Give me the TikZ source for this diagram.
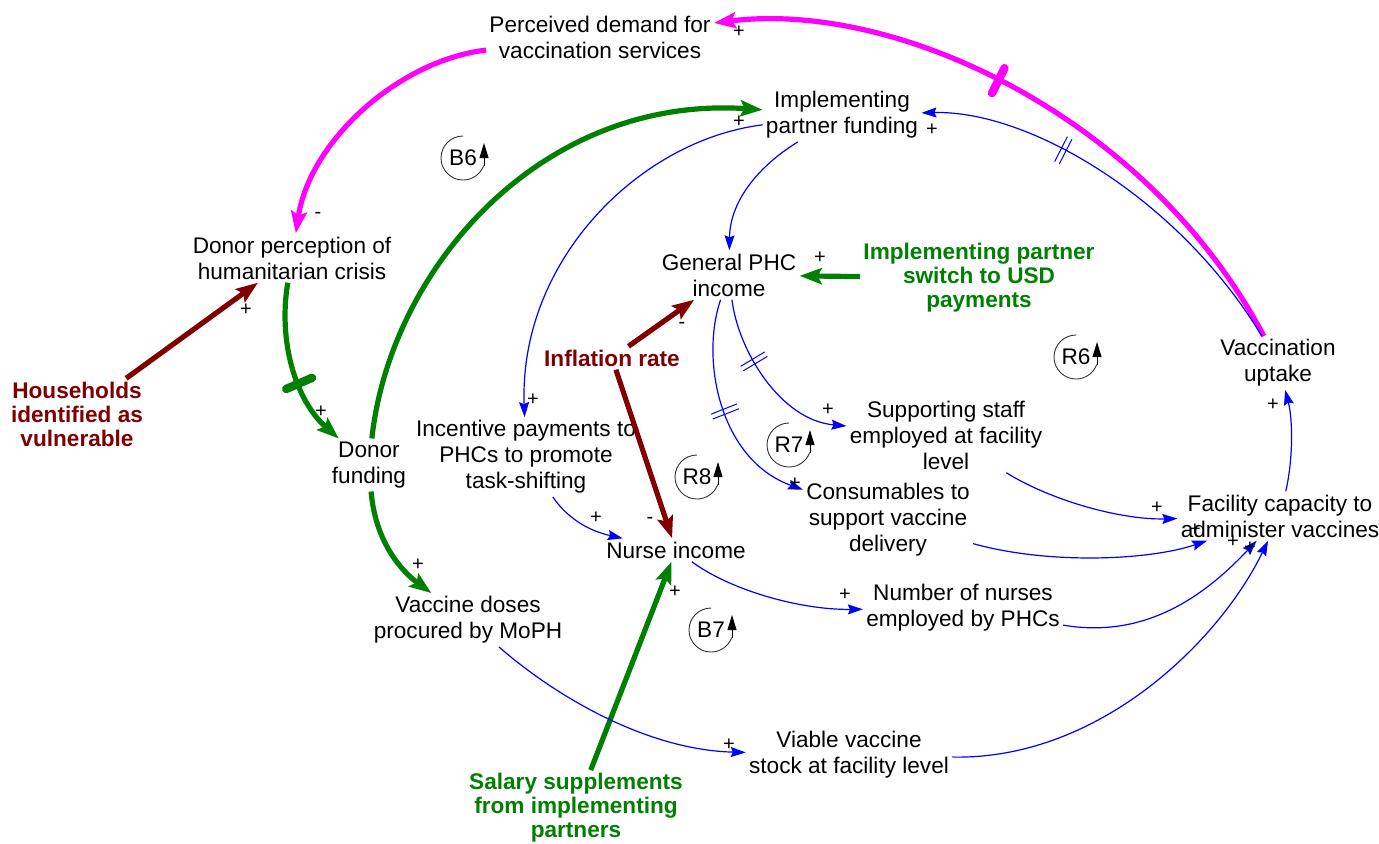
\documentclass[tikz,border=0pt]{standalone}
\usepackage{fontspec}
\setmainfont{Liberation Sans}
\usetikzlibrary{arrows.meta,decorations.markings}
\definecolor{cblue}{RGB}{0,0,255}
\definecolor{cgreen}{RGB}{0,128,0}
\definecolor{cred}{RGB}{128,0,0}
\definecolor{cmag}{RGB}{255,0,255}
\tikzset{
  var/.style={align=center, font=\fontsize{11.3}{13}\selectfont, inner sep=1.5pt},
  extg/.style={align=center, font=\fontsize{11.3}{12}\selectfont\bfseries, text=cgreen, inner sep=1.5pt},
  extr/.style={align=center, font=\fontsize{11.3}{12}\selectfont\bfseries, text=cred, inner sep=1.5pt},
  sgn/.style={font=\fontsize{10}{11}\selectfont, inner sep=0pt},
  bluelink/.style={draw=cblue, line width=0.6pt, -{Stealth[length=7.5pt,width=5pt,inset=1pt]}},
  thicklink/.style={line width=2.6pt, -{Stealth[length=11pt,width=8pt,inset=2pt]}},
  bluedelay/.style={postaction={decorate,decoration={markings,mark=at position #1 with {\draw[-,cblue,line width=0.5pt] (-1.3pt,-7pt)--(-1.3pt,7pt) (1.3pt,-7pt)--(1.3pt,7pt);}}}},
  bardelay/.style 2 args={postaction={decorate,decoration={markings,mark=at position #1 with {\draw[-,#2,line width=4.2pt,line cap=round] (0pt,-7pt)--(0pt,7pt);}}}},
  loopmk/.pic={
    \draw[-,line width=0.45pt,black!80] (90:11pt) arc[start angle=90,end angle=340,radius=11pt];
    \draw[line width=0.45pt,-{Triangle[length=7.5pt,width=4.5pt]}] (10.5pt,-4pt) -- (10.5pt,7.5pt);
    \node[font=\fontsize{11.3}{13}\selectfont,inner sep=0pt] (-lbl) {#1};
  }
}
\begin{document}
\begin{tikzpicture}[x=0.5pt,y=-0.5pt]
\useasboundingbox (0,0) rectangle (1379,843);
% variables
\node[var] (pd) at (600,37) {Perceived demand for\\vaccination services};
\node[var] (ipf) at (842,115) {Implementing\\partner funding};
\node[var] (dp) at (292,258) {Donor perception of\\humanitarian crisis};
\node[var] (phc) at (729,275) {General PHC\\income};
\node[extg] (sw) at (979,278) {Implementing partner\\switch to USD\\payments};
\node[extr] (inf) at (612,358) {Inflation rate};
\node[extr] (hh) at (77,414) {Households\\identified as\\vulnerable};
\node[var] (df) at (369,465) {Donor\\funding};
\node[var] (inc) at (526,457) {Incentive payments to\\PHCs to promote\\task-shifting};
\node[var] (vu) at (1278,363) {Vaccination\\uptake};
\node[var] (ss) at (946,435) {Supporting staff\\employed at facility\\level};
\node[var] (cons) at (888,520) {Consumables to\\support vaccine\\delivery};
\node[var] (ni) at (676,550) {Nurse income};
\node[var] (fc) at (1280,516) {Facility capacity to\\administer vaccines};
\node[var] (vd) at (468,620) {Vaccine doses\\procured by MoPH};
\node[var] (nn) at (963,608) {Number of nurses\\employed by PHCs};
\node[var] (vs) at (849,755) {Viable vaccine\\stock at facility level};
\node[extg] (sal) at (576,808) {Salary supplements\\from implementing\\partners};
% loop markers
\pic (b6) at (463,158) {loopmk=B6};
\pic (r6) at (1076,357) {loopmk=R6};
\pic (r7) at (789,445) {loopmk=R7};
\pic (r8) at (697,477) {loopmk=R8};
\pic (b7) at (711,630) {loopmk=B7};
% thick links
\draw[thicklink,cmag,bardelay={0.56}{cmag}] (vu) .. controls (1150,120) and (900,0) .. (pd);
\draw[thicklink,cmag] (pd) .. controls (400,60) and (310,140) .. (dp);
\draw[thicklink,cgreen,bardelay={0.6}{cgreen}] (dp) .. controls (278,340) and (295,400) .. (df);
\draw[thicklink,cgreen] (df) .. controls (390,270) and (540,95) .. (ipf);
\draw[thicklink,cgreen] (df) .. controls (375,540) and (400,570) .. (vd);
\draw[thicklink,cgreen] (sw) -- (phc);
\draw[thicklink,cgreen] (sal) -- (ni);
\draw[thicklink,cred] (hh) -- (dp);
\draw[thicklink,cred] (inf) -- (phc);
\draw[thicklink,cred] (inf) -- (ni);
% thin links
\draw[bluelink,bluedelay=0.65] (vu) .. controls (1180,200) and (1030,110) .. (ipf);
\draw[bluelink] (ipf) .. controls (760,165) and (730,200) .. (phc);
\draw[bluelink] (ipf) .. controls (640,140) and (519,260) .. (inc);
\draw[bluelink,bluedelay=0.36] (phc) .. controls (738,350) and (780,420) .. (ss);
\draw[bluelink,bluedelay=0.5] (phc) .. controls (700,360) and (720,460) .. (cons);
\draw[bluelink] (inc) .. controls (565,515) and (585,530) .. (ni);
\draw[bluelink] (ni) .. controls (730,590) and (800,610) .. (nn);
\draw[bluelink] (ss) .. controls (1050,500) and (1120,520) .. (fc);
\draw[bluelink] (cons) .. controls (1050,565) and (1150,560) .. (fc);
\draw[bluelink] (nn) .. controls (1150,640) and (1210,590) .. (fc);
\draw[bluelink] (vs) .. controls (1100,760) and (1220,640) .. (fc);
\draw[bluelink] (vd) .. controls (560,700) and (650,750) .. (vs);
\draw[bluelink] (fc) .. controls (1293,460) and (1293,420) .. (vu);
% polarity signs
\node[sgn] (s1) at (739,32) {+};
\node[sgn] (s2) at (318,215) {-};
\node[sgn] (s3) at (246,310) {+};
\node[sgn] (s4) at (321,412) {+};
\node[sgn] (s5) at (739,122) {+};
\node[sgn] (s6) at (932,130) {+};
\node[sgn] (s7) at (533,400) {+};
\node[sgn] (s8) at (820,258) {+};
\node[sgn] (s9) at (682,325) {-};
\node[sgn] (s10) at (828,410) {+};
\node[sgn] (s11) at (795,484) {+};
\node[sgn] (s12) at (596,518) {+};
\node[sgn] (s13) at (650,520) {-};
\node[sgn] (s14) at (675,592) {+};
\node[sgn] (s15) at (418,565) {+};
\node[sgn] (s16) at (845,595) {+};
\node[sgn] (s17) at (729,745) {+};
\node[sgn] (s18) at (1157,508) {+};
\node[sgn] (s19) at (1195,530) {+};
\node[sgn] (s20) at (1233,542) {+};
\node[sgn] (s21) at (1250,548) {+};
\node[sgn] (s22) at (1273,405) {+};
\end{tikzpicture}
\end{document}
